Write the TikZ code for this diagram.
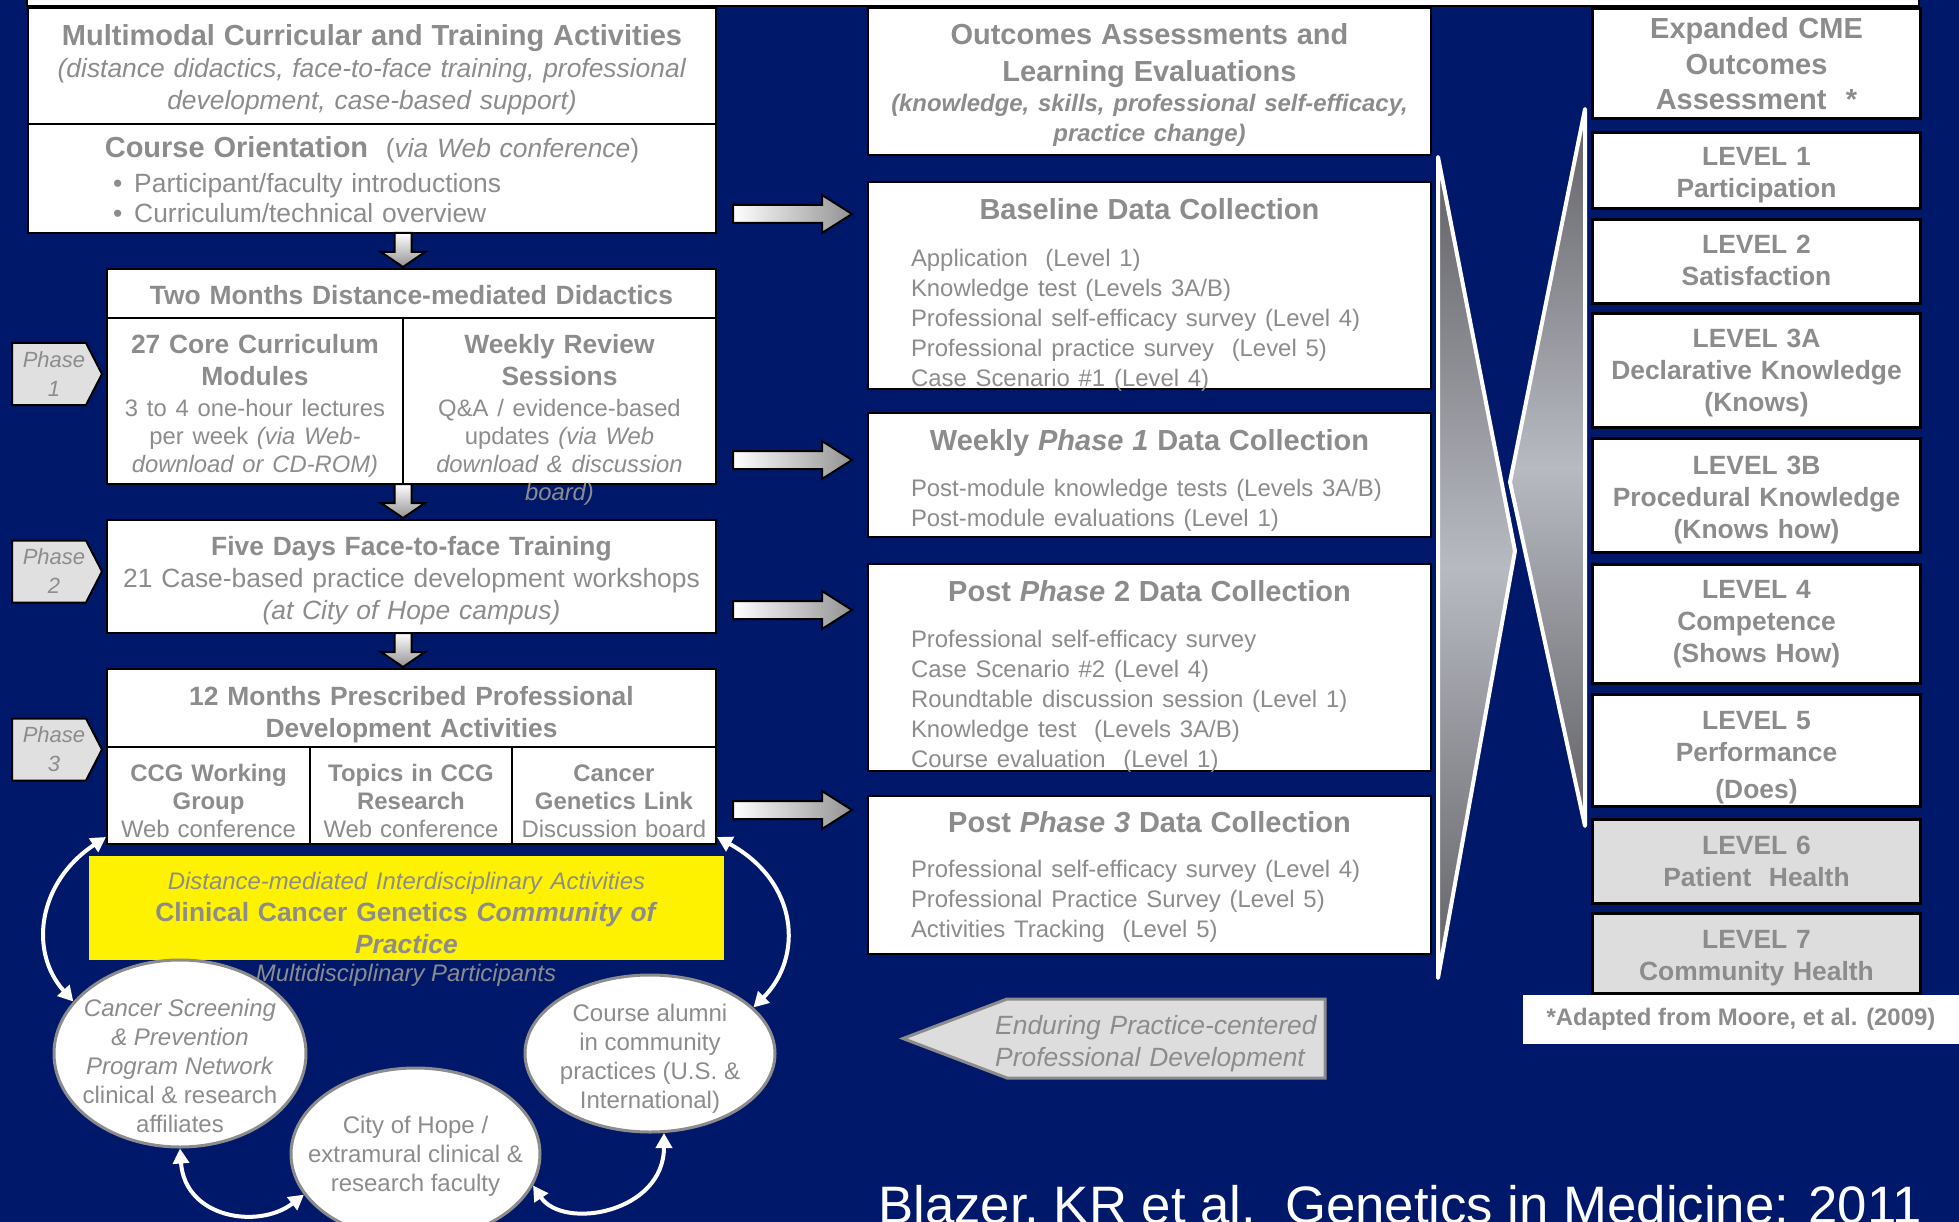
\documentclass[tikz,border=0pt]{standalone}
\usepackage{fontspec}
\setmainfont{Liberation Sans}
\usetikzlibrary{arrows.meta,shapes.geometric}
\definecolor{navy}{RGB}{0,24,106}
\definecolor{txtgray}{RGB}{140,140,140}
\definecolor{tagfill}{RGB}{224,224,224}
\definecolor{lvlfill}{RGB}{221,221,221}
\definecolor{xdark}{RGB}{96,96,100}
\definecolor{xlight}{RGB}{184,186,194}
\newcommand{\fBig}{\fontsize{29}{36}\selectfont}
\newcommand{\fMid}{\fontsize{26.4}{32}\selectfont}
\newcommand{\fSmall}{\fontsize{23.9}{30}\selectfont}
\newcommand{\fSub}{\fontsize{23.8}{28}\selectfont}
\tikzset{
box/.style={draw=black, line width=2pt, fill=white, inner sep=0pt,
  anchor=north west, align=center, text=txtgray, font=\fMid},
subbox/.style={box, text height=34.5pt, text depth=62.5pt, font=\fontsize{23.9}{28}\selectfont},
midbox/.style={box, inner xsep=43pt, text width=477pt},
levelbox/.style={box, line width=3pt, text width=328pt, font=\fMid\bfseries},
bubble/.style={ellipse, draw=txtgray, line width=3pt, fill=white},
bubbletext/.style={align=center, text=txtgray, font=\fontsize{24}{29}\selectfont},
phasetag/.style={fill=tagfill, draw=black, line width=2pt},
phasetext/.style={align=center, text=txtgray, font=\fontsize{22}{29}\selectfont\itshape},
blockright/.style={draw=black, line width=2pt, left color=white, right color=gray!85},
blockdown/.style={draw=black, line width=2pt, top color=white, bottom color=gray!85},
xhalf/.style={top color=xdark, bottom color=xdark, middle color=xlight},
xedge/.style={draw=white, line width=4pt, line join=round},
twoway/.style={draw=white, line width=4pt, >={Triangle[length=15pt,width=16pt]}, <->}
}

\begin{document}
\begin{tikzpicture}[x=1pt, y=-1pt]
\useasboundingbox (0,0) rectangle (1959,1222);
\clip (0,0) rectangle (1959,1222);
\fill[navy] (0,0) rectangle (1959,1222);
\filldraw[fill=white, draw=black, line width=2pt] (27,-10) rectangle (1919,6);

% left column
\node[box, text width=688pt, text height=38pt, text depth=78pt] (multi) at (27,7)
  {{\fBig\bfseries Multimodal Curricular and Training Activities}\\
   \textit{(distance didactics, face-to-face training, professional}\\
   \textit{development, case-based support)}};
\node[box, text width=688pt, text height=34pt, text depth=75pt] (orient) at (27,123)
  {{\fBig\bfseries Course Orientation}\ \ (\textit{via Web conference})\par
   \vspace{5pt}
   {\raggedright\leftskip=85pt\fontsize{26.4}{30}\selectfont
   \textbullet\hspace{12pt}Participant/faculty introductions\\
   \textbullet\hspace{12pt}Curriculum/technical overview\par}};
\node[box, text width=609pt, text height=36pt, text depth=13pt] (twomo) at (106,268)
  {\textbf{Two Months Distance-mediated Didactics}};
\node[box, text width=296pt, text height=35.5pt, text depth=130pt,
  font=\fontsize{26.4}{28}\selectfont] (core) at (106,317)
  {\textbf{27 Core Curriculum}\\[4pt]\textbf{Modules}\\[3pt]{\fSub 3 to 4 one-hour lectures}\\
   {\fSub per week \textit{(via Web-}}\\{\fSub\itshape download or CD-ROM)}};
\node[box, text width=313pt, text height=35.5pt, text depth=130pt,
  font=\fontsize{26.4}{28}\selectfont] (review) at (402,317)
  {\textbf{Weekly Review}\\[4pt]\textbf{Sessions}\\[3pt]{\fSub Q\&A / evidence-based}\\
   {\fSub updates \textit{(via Web}}\\{\fSub\itshape download \& discussion}\\{\fSub\itshape board)}};
\node[box, text width=609pt, text height=35pt, text depth=78pt] (fiveday) at (106,519)
  {\textbf{Five Days Face-to-face Training}\\
   21 Case-based practice development workshops\\\textit{(at City of Hope campus)}};
\node[box, text width=609pt, text height=36.5pt, text depth=41.5pt] (twelvemo) at (106,668)
  {\textbf{12 Months Prescribed Professional}\\\textbf{Development Activities}};
\node[subbox, text width=203pt] (ccg) at (106,746) {\textbf{CCG Working}\\\textbf{Group}\\Web conference};
\node[subbox, text width=202pt] (topics) at (309,746) {\textbf{Topics in CCG}\\\textbf{Research}\\Web conference};
\node[subbox, text width=204pt] (link) at (511,746) {\textbf{Cancer}\\\textbf{Genetics Link}\\Discussion board};

% the arrows down the left column
\foreach \yt/\yb in {233/267,484/518,633/667}
  \shadedraw[blockdown] (394.5,\yt) -- (411.5,\yt) -- (411.5,\yb-15) -- (425,\yb-15)
    -- (403,\yb) -- (381,\yb-15) -- (394.5,\yb-15) -- cycle;

% phase tags
\foreach \yc/\n in {374/1,571.5/2,749.5/3}
{
  \filldraw[phasetag] (12,\yc-31) -- (86,\yc-31) -- (102,\yc) -- (86,\yc+31) -- (12,\yc+31) -- cycle;
  \node[phasetext] (phase\n) at (54,\yc) {Phase\\\n};
}

% community of practice
\node[box, draw=none, fill=yellow, text width=635pt, text height=33.5pt, text depth=70.5pt] (cop) at (88,855)
  {\textit{\fSmall Distance-mediated Interdisciplinary Activities}\\
   \textbf{Clinical Cancer Genetics \textit{Community of}}\\\textbf{\textit{Practice}}};
\node[anchor=base, text=txtgray, font=\fSmall\itshape] (multidisc) at (406,981) {Multidisciplinary Participants};

\node[bubble, minimum width=252pt, minimum height=187pt] (cScreen) at (180,1053.5) {};
\node[bubble, minimum width=249pt, minimum height=172pt] (cHope) at (415.5,1154) {};
\node[bubble, minimum width=250pt, minimum height=157pt] (cAlumni) at (650,1053.5) {};
\node[bubbletext] (tScreen) at ([yshift=-12.5pt]cScreen.center)
  {\textit{Cancer Screening}\\\textit{\& Prevention}\\\textit{Program Network}\\clinical \& research\\affiliates};
\node[bubbletext] (tHope) at ([yshift=-2pt]cHope.center)
  {City of Hope /\\extramural clinical \&\\research faculty};
\node[bubbletext] (tAlumni) at ([yshift=-5pt]cAlumni.center)
  {Course alumni\\in community\\practices (U.S. \&\\International)};

\draw[twoway] (cScreen.154) .. controls +(-45,-50) and +(-68,45) .. ([yshift=8pt]ccg.south west);
\draw[twoway] (cAlumni.24) .. controls +(50,-50) and +(82,45) .. ([yshift=8pt]link.south east);
\draw[twoway] (cScreen.south) .. controls +(5,70) and +(-45,35) .. (cHope.200);
\draw[twoway] (cHope.345) .. controls +(30,45) and +(0,80) .. (cAlumni.280);

% the arrows to the middle column
\foreach \ya in {214,460,610,810}
  \shadedraw[blockright] (733,\ya-9) -- (822,\ya-9) -- (822,\ya-19) -- (852,\ya)
    -- (822,\ya+19) -- (822,\ya+9) -- (733,\ya+9) -- cycle;

% middle column
\node[midbox, inner xsep=10pt, text width=543pt, text height=36.5pt, text depth=110.5pt] (outc) at (867,7)
  {{\fontsize{29}{37}\selectfont\bfseries Outcomes Assessments and\\Learning Evaluations\par}
   {\fSmall\bfseries\itshape (knowledge, skills, professional self-efficacy,\\practice change)\par}};
\node[midbox, text height=37.5pt, text depth=169.5pt] (base) at (867,181)
  {{\fBig\bfseries Baseline Data Collection\par}\vspace{17pt}
   {\raggedright\fSmall Application\ \ (Level 1)\\Knowledge test (Levels 3A/B)\\
   Professional self-efficacy survey (Level 4)\\Professional practice survey\ \ (Level 5)\\
   Case Scenario \#1 (Level 4)\par}};
\node[midbox, text height=37.5pt, text depth=86.5pt] (weekly) at (867,412)
  {{\fBig\bfseries Weekly \textit{Phase 1} Data Collection\par}\vspace{16pt}
   {\raggedright\fSmall Post-module knowledge tests (Levels 3A/B)\\
   Post-module evaluations (Level 1)\par}};
\node[midbox, text height=37.5pt, text depth=169.5pt] (posttwo) at (867,563)
  {{\fBig\bfseries Post \textit{Phase} 2 Data Collection\par}\vspace{16pt}
   {\raggedright\fSmall Professional self-efficacy survey\\Case Scenario \#2 (Level 4)\\
   Roundtable discussion session (Level 1)\\Knowledge test\ \ (Levels 3A/B)\\
   Course evaluation\ \ (Level 1)\par}};
\node[midbox, text height=36.5pt, text depth=121.5pt] (postthree) at (867,795)
  {{\fBig\bfseries Post \textit{Phase 3} Data Collection\par}\vspace{15pt}
   {\raggedright\fSmall Professional self-efficacy survey (Level 4)\\
   Professional Practice Survey (Level 5)\\Activities Tracking\ \ (Level 5)\par}};

% the crossed wedges
\shade[xhalf] (1438,157) -- (1515,551) -- (1438,978) -- cycle;
\shade[xhalf] (1585,109) -- (1510,482) -- (1585,826) -- cycle;
\draw[xedge] (1438,157) -- (1515,551) -- (1438,978) -- cycle;
\draw[xedge] (1585,109) -- (1510,482) -- (1585,826) -- cycle;

% right column
\node[levelbox, font=\fontsize{29}{35.5}\selectfont\bfseries, text height=30.5pt, text depth=79.5pt] (cme) at (1591,7)
  {Expanded CME\\Outcomes\\Assessment\ \ *};
\node[levelbox, text height=33.5pt, text depth=42.5pt] (lvOne) at (1591,131) {LEVEL 1\\Participation};
\node[levelbox, text height=34.5pt, text depth=49.5pt] (lvTwo) at (1591,218) {LEVEL 2\\Satisfaction};
\node[levelbox, text height=34.5pt, text depth=79.5pt] (lvThreeA) at (1591,312) {LEVEL 3A\\Declarative Knowledge\\(Knows)};
\node[levelbox, text height=35.5pt, text depth=78.5pt] (lvThreeB) at (1591,437) {LEVEL 3B\\Procedural Knowledge\\(Knows how)};
\node[levelbox, text height=33.5pt, text depth=85.5pt] (lvFour) at (1591,563) {LEVEL 4\\Competence\\(Shows How)};
\node[levelbox, text height=34.5pt, text depth=77.5pt] (lvFive) at (1591,693) {LEVEL 5\\Performance\\[5pt](Does)};
\node[levelbox, fill=lvlfill, text height=34.5pt, text depth=49.5pt] (lvSix) at (1591,818) {LEVEL 6\\Patient\ \ Health};
\node[levelbox, fill=lvlfill, text height=34.5pt, text depth=45.5pt] (lvSeven) at (1591,912) {LEVEL 7\\Community Health};
\node[fill=white, minimum width=436pt, minimum height=49pt, text=txtgray, font=\fSmall\bfseries] (adapted)
  at (1741,1019.5) {*Adapted from Moore, et al. (2009)};

% enduring development
\filldraw[fill=lvlfill, draw=txtgray, line width=3pt] (903,1038.5) -- (1007,999) -- (1325,999)
  -- (1325,1078) -- (1007,1078) -- cycle;
\node[anchor=base west, inner sep=0pt, text width=335pt, align=left, text=txtgray,
  font=\fontsize{26.4}{32}\selectfont\itshape] (enduring) at (995,1034.5)
  {Enduring Practice-centered\\Professional Development};

\node[anchor=base west, inner sep=0pt, text=white, font=\fontsize{52.7}{60}\selectfont] (cite)
  at (878,1223) {Blazer, KR et al.\ \ Genetics in Medicine: 2011};
\end{tikzpicture}
\end{document}
